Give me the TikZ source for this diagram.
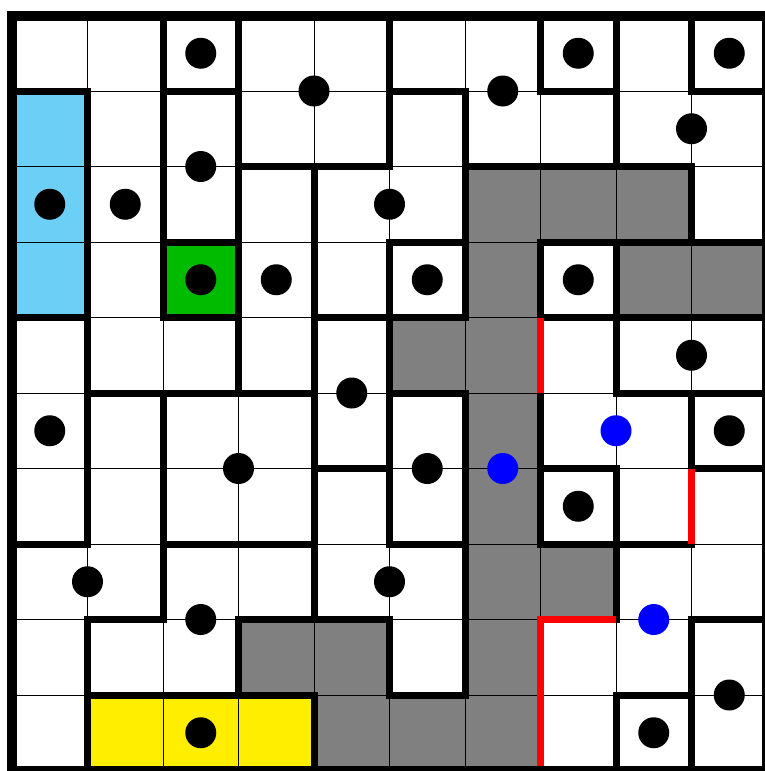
\documentclass[tikz,border=0pt]{standalone}
\definecolor{skyc}{RGB}{108,207,246}
\definecolor{greenc}{RGB}{0,187,0}
\definecolor{yellowc}{RGB}{255,238,0}
\definecolor{grayc}{RGB}{128,128,128}
\definecolor{bluedot}{RGB}{0,0,255}
\definecolor{redwallc}{RGB}{255,0,0}
\begin{document}
\begin{tikzpicture}[x=1pt,y=-1pt,
  gridline/.style={line width=0.9pt, draw=black},
  wall/.style={line width=7pt, line cap=rect, draw=black},
  redwall/.style={line width=7pt, line cap=butt, line join=miter, draw=redwallc},
  border/.style={line width=10pt, draw=black},
  graycell/.style={fill=grayc},
  blackdot/.style={fill=black},
  bluedotstyle/.style={fill=bluedot}]
\useasboundingbox (0,0) rectangle (765,771);
\fill[white] (0,0) rectangle (765,771);
\begin{scope}[shift={(12,15.5)}, x=75.5pt, y=-75.5pt]
  % coloured cells
  \fill[skyc] (0,1) rectangle (1,4);
  \fill[greenc] (2,3) rectangle (3,4);
  \fill[yellowc] (1,9) rectangle (4,10);
  \foreach \c/\r in {6/2,7/2,8/2,6/3,8/3,9/3,5/4,6/4,6/5,6/6,6/7,7/7,3/8,4/8,6/8,4/9,5/9,6/9}
    \fill[graycell] (\c,\r) rectangle ++(1,1);
  % thin grid
  \foreach \i in {1,...,9} {
    \draw[gridline] (\i,0) -- (\i,10);
    \draw[gridline] (0,\i) -- (10,\i);
  }
  % thick vertical walls: row / columns
  \foreach \r/\cs in {0/{2,3,5,7,8,9},1/{1,2,3,5,6,8},2/{1,2,3,4,6,9},3/{1,2,3,4,5,6,7,8},
                      4/{1,3,4,5,8},5/{1,2,4,5,6,7,9},6/{1,2,4,5,6,7,8},7/{2,4,6,8},
                      8/{1,3,5,6,9},9/{1,4,8,9}}
    \foreach \c in \cs
      \draw[wall] (\c,\r) -- (\c,\r+1);
  % thick horizontal walls: line / columns
  \foreach \r/\cs in {1/{0,2,5,7,9},2/{3,4,6,7,8},3/{2,5,7,8,9},4/{0,2,4,5,7,8,9},
                      5/{1,2,3,5,8,9},6/{4,7,9},7/{0,2,3,5,7,8},8/{1,3,4,9},9/{1,2,3,5,8}}
    \foreach \c in \cs
      \draw[wall] (\c,\r) -- (\c+1,\r);
  % red walls
  \draw[redwall] (7,4) -- (7,5);
  \draw[redwall] (9,6) -- (9,7);
  \draw[redwall] (8,8) -- (7,8) -- (7,10);
  % outer border
  \draw[border] (0,0) rectangle (10,10);
  % dots
  \foreach \x/\y in {2.5/0.5,4/1,6.5/1,7.5/0.5,9.5/0.5,9/1.5,2.5/2,0.5/2.5,1.5/2.5,5/2.5,
                     2.5/3.5,3.5/3.5,5.5/3.5,7.5/3.5,9/4.5,4.5/5,0.5/5.5,9.5/5.5,3/6,5.5/6,
                     7.5/6.5,1/7.5,5/7.5,2.5/8,9.5/9,2.5/9.5,8.5/9.5}
    \fill[blackdot] (\x,\y) circle[radius=15.5pt];
  \foreach \x/\y in {8/5.5,6.5/6,8.5/8}
    \fill[bluedotstyle] (\x,\y) circle[radius=15.5pt];
\end{scope}
\end{tikzpicture}
\end{document}
